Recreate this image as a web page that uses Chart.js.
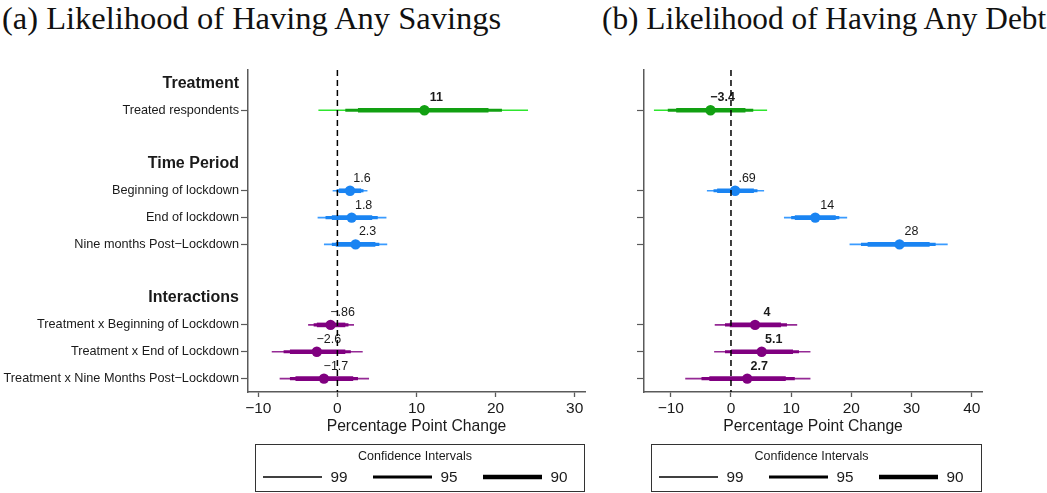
<!DOCTYPE html>
<html>
<head>
<meta charset="utf-8">
<script src="https://cdn.jsdelivr.net/npm/chart.js@4/dist/chart.umd.min.js"></script>
<style>
  html, body { margin: 0; padding: 0; background: #fff; }
  body { width: 1047px; height: 493px; position: relative; overflow: hidden; }
  .title { position: absolute; top: 1px; font-family: "Liberation Serif", "DejaVu Serif", serif;
           font-size: 31.3px; line-height: 36px; color: #111; white-space: nowrap; }
  .wrap { position: absolute; top: 60px; height: 433px; }
</style>
</head>
<body>
<div class="title" style="left:2px;font-size:32.5px;top:0">(a) Likelihood of Having Any Savings</div>
<div class="title" style="left:602px">(b) Likelihood of Having Any Debt</div>
<div class="wrap" style="left:0;width:600px"><canvas id="savings" width="600" height="433"></canvas></div>
<div class="wrap" style="left:600px;width:447px"><canvas id="debt" width="447" height="433"></canvas></div>

<script>
// ---- rows of the coefficient plot (top to bottom) ----
const rowLabels = [
  'Treatment',
  'Treated respondents',
  '',
  'Time Period',
  'Beginning of lockdown',
  'End of lockdown',
  'Nine months Post\u2212Lockdown',
  '',
  'Interactions',
  'Treatment x Beginning of Lockdown',
  'Treatment x End of Lockdown',
  'Treatment x Nine Months Post\u2212Lockdown'
];
const headerRows = [0, 3, 8];
const termRows   = [1, 4, 5, 6, 9, 10, 11];
const termGroup  = ['treat', 'time', 'time', 'time', 'inter', 'inter', 'inter'];
const ciLevels   = ['99', '95', '90'];

// ---- (a) any savings: estimates and confidence intervals (percentage points) ----
const savingsEst  = [11, 1.6, 1.8, 2.3, -0.86, -2.6, -1.7];
const savingsCI99 = [[-2.4, 24.1], [-0.6, 3.8], [-2.5, 6.2], [-1.7, 6.3], [-3.7, 2.1], [-8.3, 3.2], [-7.3, 4.0]];
const savingsCI95 = [[1.0, 20.8], [-0.1, 3.3], [-1.5, 5.1], [-0.7, 5.3], [-3.0, 1.4], [-6.8, 1.7], [-6.0, 2.6]];
const savingsCI90 = [[2.6, 19.1], [0.2, 3.0], [-0.7, 4.4], [-0.2, 4.8], [-2.6, 1.0], [-6.0, 1.0], [-5.3, 2.0]];
const savingsTicks = [-10, 0, 10, 20, 30];

// ---- (b) any debt ----
const debtEst  = [-3.4, 0.69, 14, 28, 4, 5.1, 2.7];
const debtCI99 = [[-12.8, 6.0], [-4.0, 5.5], [8.8, 19.3], [19.7, 36.0], [-2.7, 11.0], [-2.8, 13.2], [-7.6, 13.2]];
const debtCI95 = [[-10.5, 3.7], [-2.9, 4.4], [10.0, 18.0], [21.6, 34.0], [-1.0, 9.3], [-1.0, 11.3], [-4.9, 10.6]];
const debtCI90 = [[-9.1, 2.4], [-2.3, 3.8], [10.6, 17.4], [22.7, 33.0], [-0.2, 8.3], [0.0, 10.3], [-3.6, 9.1]];
const debtTicks = [-10, 0, 10, 20, 30, 40];

// ---- styling ----
const SANS = '"Liberation Sans", Arial, Helvetica, sans-serif';
const INK = '#1a1a1a';
const AXIS = '#5a5a5a';
const groupColors = {
  treat: { thin: '#2ee62e', thick: '#12a012' },
  time:  { thin: '#3a9bff', thick: '#1a84f2' },
  inter: { thin: '#952a95', thick: '#800080' }
};
const ciWidths = { '99': 1.6, '95': 3.2, '90': 4.6 };
const savingsBoldLabels = [true, false, false, false, false, false, false];
const debtBoldLabels    = [true, false, false, false, true, true, true];

// Stata-style number formatting: ".69", "\u2212.86", "\u22123.4"
function fmt(v) {
  let s = String(Math.abs(v));
  if (s.startsWith('0.')) s = s.slice(1);
  return (v < 0 ? '\u2212' : '') + s;
}

function buildDatasets(est, ci99, ci95, ci90) {
  const sets = [];
  const levels = { '99': ci99, '95': ci95, '90': ci90 };
  termRows.forEach((row, i) => {
    const col = groupColors[termGroup[i]];
    ciLevels.forEach((lv, k) => {
      const [lo, hi] = levels[lv][i];
      sets.push({
        data: [{ x: lo, y: row }, { x: hi, y: row }],
        showLine: true,
        borderColor: lv === '99' ? col.thin : col.thick,
        borderWidth: ciWidths[lv],
        borderCapStyle: 'butt',
        pointRadius: 0,
        pointHoverRadius: 0,
        order: 4 - k
      });
    });
  });
  sets.push({
    data: est.map((v, i) => ({ x: v, y: termRows[i] })),
    showLine: false,
    pointRadius: 5.2,
    pointBorderWidth: 0,
    pointBackgroundColor: est.map((v, i) => groupColors[termGroup[i]].thick),
    pointBorderColor: est.map((v, i) => groupColors[termGroup[i]].thick),
    order: 0
  });
  return sets;
}

// value labels above each estimate, then the dashed zero reference line
function labelsPlugin(est, bold) {
  return {
    id: 'valueLabels',
    afterDatasetsDraw(chart) {
      const { ctx, scales: { x, y }, chartArea: a } = chart;
      ctx.save();
      ctx.fillStyle = INK;
      ctx.textAlign = 'center';
      ctx.textBaseline = 'middle';
      est.forEach((v, i) => {
        ctx.font = (bold[i] ? 'bold ' : '') + '12.5px ' + SANS;
        ctx.fillText(fmt(v), x.getPixelForValue(v) + 12, y.getPixelForValue(termRows[i]) - 12.5);
      });
      const x0 = x.getPixelForValue(0);
      ctx.strokeStyle = '#000';
      ctx.lineWidth = 1.5;
      ctx.setLineDash([6, 4]);
      ctx.beginPath();
      ctx.moveTo(x0, a.top);
      ctx.lineTo(x0, a.bottom);
      ctx.stroke();
      ctx.restore();
    }
  };
}

const ciLegend = {
  id: 'ciLegend',
  afterDraw(chart) {
    const { ctx, chartArea: a } = chart;
    const L = a.left + 7, R = a.right, T = a.bottom + 52, B = a.bottom + 100;
    ctx.save();
    ctx.strokeStyle = '#333';
    ctx.lineWidth = 1;
    ctx.strokeRect(L + 0.5, T + 0.5, R - L - 1, B - T - 1);
    ctx.fillStyle = INK;
    ctx.textAlign = 'center';
    ctx.textBaseline = 'middle';
    ctx.font = '12.5px ' + SANS;
    ctx.fillText('Confidence Intervals', (L + R) / 2 - 5, T + 13);
    ctx.strokeStyle = '#000';
    ciLevels.forEach((lv, k) => {
      const x0 = L + 8 + 110 * k;
      ctx.lineWidth = ciWidths[lv] - 0.3;
      ctx.beginPath();
      ctx.moveTo(x0, T + 33);
      ctx.lineTo(x0 + 59, T + 33);
      ctx.stroke();
      ctx.font = '15.3px ' + SANS;
      ctx.fillText(lv, x0 + 76, T + 34);
    });
    ctx.restore();
  }
};

function makeChart(id, est, ci99, ci95, ci90, xTicks, xMin, xMax, showRowLabels, yWidth, padRight, bold) {
  return new Chart(document.getElementById(id), {
    type: 'scatter',
    data: { datasets: buildDatasets(est, ci99, ci95, ci90) },
    plugins: [labelsPlugin(est, bold), ciLegend],
    options: {
      responsive: false,
      animation: false,
      events: [],
      layout: { padding: { top: 10, right: padRight, bottom: 55, left: 0 } },
      plugins: { legend: { display: false }, tooltip: { enabled: false } },
      scales: {
        x: {
          type: 'linear',
          min: xMin,
          max: xMax,
          afterBuildTicks: s => { s.ticks = xTicks.map(v => ({ value: v })); },
          afterFit: s => { s.height = 46; },
          ticks: {
            callback: v => fmt(v),
            font: { family: SANS, size: 15.5 },
            color: INK,
            padding: 2,
            maxRotation: 0,
            autoSkip: false
          },
          grid: { drawOnChartArea: false, tickLength: 5, tickColor: AXIS, tickWidth: 1.3 },
          border: { color: AXIS, width: 1.5 },
          title: {
            display: true,
            text: 'Percentage Point Change',
            font: { family: SANS, size: 15.7 },
            color: INK,
            padding: { top: 0, bottom: 2 }
          }
        },
        y: {
          type: 'linear',
          reverse: true,
          min: -0.5,
          max: 11.5,
          afterBuildTicks: s => {
            const rows = showRowLabels ? headerRows.concat(termRows).sort((a, b) => a - b) : termRows;
            s.ticks = rows.map(v => ({ value: v }));
          },
          afterFit: s => { s.width = yWidth; },
          ticks: {
            callback: v => (showRowLabels ? rowLabels[v] : ''),
            font: c => headerRows.includes(c.tick && c.tick.value)
              ? { family: SANS, size: 16, weight: 'bold' }
              : { family: SANS, size: 12.7 },
            color: INK,
            padding: 2,
            autoSkip: false
          },
          grid: {
            drawOnChartArea: false,
            tickLength: 7,
            tickWidth: 1.2,
            tickColor: c => headerRows.includes(c.tick && c.tick.value) ? 'rgba(0,0,0,0)' : AXIS
          },
          border: { color: AXIS, width: 1.5 }
        }
      }
    }
  });
}

makeChart('savings', savingsEst, savingsCI99, savingsCI95, savingsCI90, savingsTicks,
          -11.3, 31.3, true, 248, 15, savingsBoldLabels);
makeChart('debt', debtEst, debtCI99, debtCI95, debtCI90, debtTicks,
          -14.45, 41.7, false, 44, 65, debtBoldLabels);
</script>
</body>
</html>
